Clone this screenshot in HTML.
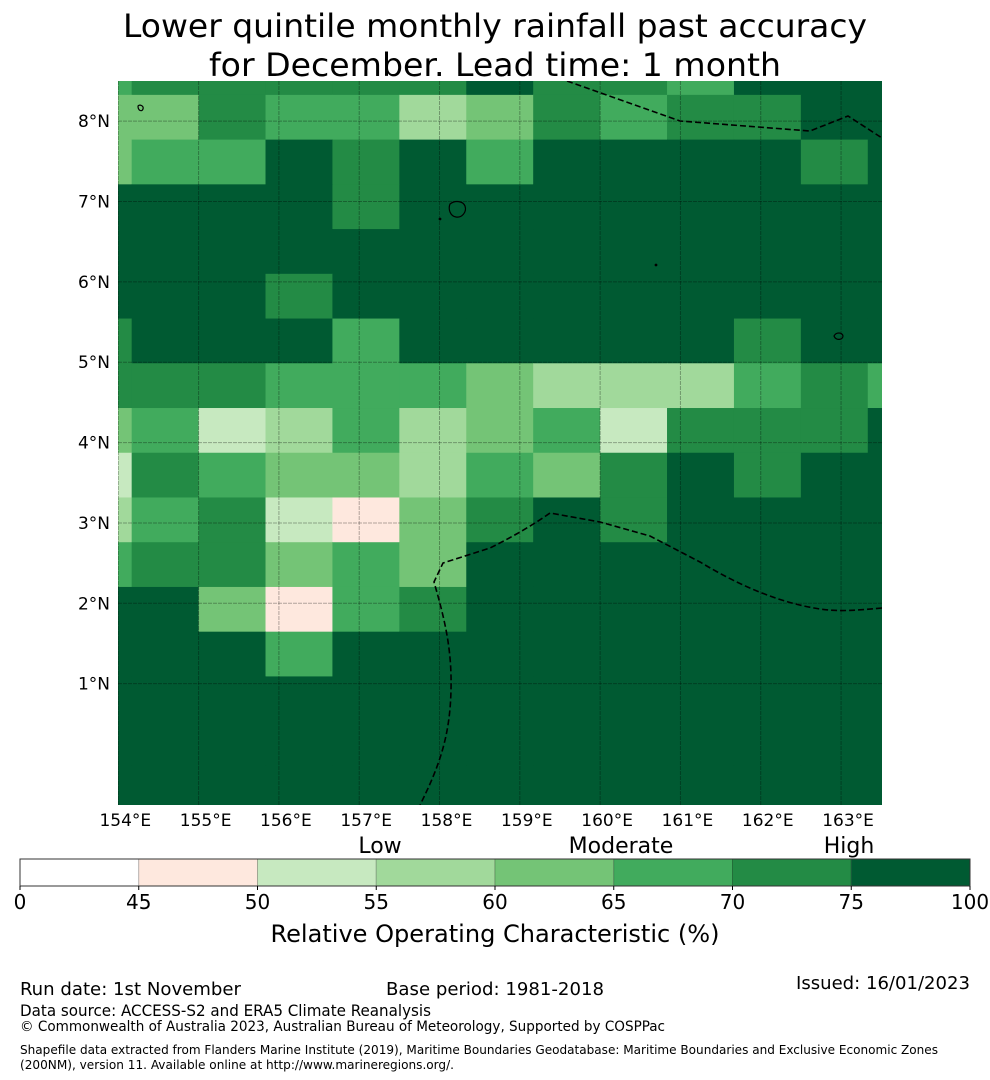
<!DOCTYPE html>
<html><head><meta charset="utf-8">
<style>
html,body{margin:0;padding:0;background:#fff;}
svg{display:block;font-family:"DejaVu Sans","Liberation Sans",sans-serif;}
</style></head>
<body>
<svg id="chart" width="990" height="1080" viewBox="0 0 990 1080" xmlns="http://www.w3.org/2000/svg">
<text x="495" y="37" text-anchor="middle" font-size="32" textLength="744" lengthAdjust="spacingAndGlyphs">Lower quintile monthly rainfall past accuracy</text>
<text x="495" y="76" text-anchor="middle" font-size="32" textLength="572" lengthAdjust="spacingAndGlyphs">for December. Lead time: 1 month</text>
<defs><clipPath id="mapclip"><rect x="118" y="81" width="764" height="724"/></clipPath></defs>
<g id="cells" clip-path="url(#mapclip)"></g>
<g id="grid" clip-path="url(#mapclip)"></g>
<g id="eez" clip-path="url(#mapclip)" fill="none" stroke="#000" stroke-width="1.6" stroke-dasharray="6,3">
<path d="M567,81 L680,121 L810,131 L848,116 L882,138"/>
<path d="M882,608 C860,610 840,612 820,609 C780,603 740,586 700,562 L650,536 L600,522 L550,513 C530,527 510,538 490,548 L443,563 L434,582 C445,620 452,650 451,690 C450,735 440,765 420,805"/>
</g>
<g id="islands" fill="none" stroke="#000" stroke-width="1.2">
<path d="M450,204 C455,200 463,201 465,206 C467,212 462,218 456,217 C450,216 448,209 450,204 Z"/>
<path d="M138,106 C140,104 144,106 143,109 C142,112 138,111 138,106 Z"/>
<path d="M834,336 C836,332 842,332 843,336 C843,340 836,341 834,336 Z"/>
<circle cx="440" cy="219" r="0.8" fill="#000"/>
<circle cx="656" cy="265" r="0.8" fill="#000"/>
</g>
<g id="axes"></g>
<g id="cbar"></g>
<text x="380" y="853" text-anchor="middle" font-size="22">Low</text>
<text x="621" y="853" text-anchor="middle" font-size="22">Moderate</text>
<text x="849" y="853" text-anchor="middle" font-size="22">High</text>
<text x="495" y="942" text-anchor="middle" font-size="24" textLength="449" lengthAdjust="spacingAndGlyphs">Relative Operating Characteristic (%)</text>
<g font-family="'DejaVu Sans Condensed','DejaVu Sans',sans-serif">
<text x="20" y="995" font-size="18" textLength="221" lengthAdjust="spacingAndGlyphs">Run date: 1st November</text>
<text x="386" y="995" font-size="18" textLength="218" lengthAdjust="spacingAndGlyphs">Base period: 1981-2018</text>
<text x="796" y="989" font-size="18" textLength="174" lengthAdjust="spacingAndGlyphs">Issued: 16/01/2023</text>
<text x="20" y="1016" font-size="16" textLength="411" lengthAdjust="spacingAndGlyphs">Data source: ACCESS-S2 and ERA5 Climate Reanalysis</text>
<text x="20" y="1031" font-size="14" textLength="645" lengthAdjust="spacingAndGlyphs">© Commonwealth of Australia 2023, Australian Bureau of Meteorology, Supported by COSPPac</text>
<text x="20" y="1054" font-size="12" textLength="918" lengthAdjust="spacingAndGlyphs">Shapefile data extracted from Flanders Marine Institute (2019), Maritime Boundaries Geodatabase: Maritime Boundaries and Exclusive Economic Zones</text>
<text x="20" y="1069" font-size="12" textLength="434" lengthAdjust="spacingAndGlyphs">(200NM), version 11. Available online at http://www.marineregions.org/.</text>
</g>
</svg>
<script>
// ROC values (%) per grid cell, rows north→south, columns west→east
const rocRows = [
 [67,72,72,72,72,72,85,72,72,67,85,85,85],
 [62,62,72,67,67,57,62,72,67,72,72,85,85],
 [62,67,67,85,72,85,67,85,85,85,85,72,85],
 [85,85,85,85,72,85,85,85,85,85,85,85,85],
 [85,85,85,85,85,85,85,85,85,85,85,85,85],
 [85,85,85,72,85,85,85,85,85,85,85,85,85],
 [72,85,85,85,67,85,85,85,85,85,72,85,85],
 [72,72,72,67,67,67,62,57,57,57,67,72,67],
 [62,67,52,57,67,57,62,67,52,72,72,72,85],
 [52,72,67,62,62,57,67,62,72,85,72,85,85],
 [57,67,72,52,47,62,72,85,72,85,85,85,85],
 [67,72,72,62,67,62,85,85,85,85,85,85,85],
 [85,85,62,47,67,72,85,85,85,85,85,85,85],
 [85,85,85,67,85,85,85,85,85,85,85,85,85],
 [85,85,85,85,85,85,85,85,85,85,85,85,85],
 [85,85,85,85,85,85,85,85,85,85,85,85,85],
 [85,85,85,85,85,85,85,85,85,85,85,85,85]
];
const levelBounds = [0,45,50,55,60,65,70,75,100];
const levelColors = ["#ffffff","#fee8de","#c7e9c0","#a1d99b","#74c476","#41ab5d","#238b45","#005a32"];
const lonTicks = [154,155,156,157,158,159,160,161,162,163];
const latTicks = [1,2,3,4,5,6,7,8];
const cbarTicks = ["0","45","50","55","60","65","70","75","100"];
const NS="http://www.w3.org/2000/svg";
const lonMin=153.9963, lonMax=163.51, latMin=-0.51, latMax=8.5;
const X0=118,X1=882,Y0=81,Y1=805;
function xOf(lon){return X0+(lon-lonMin)/(lonMax-lonMin)*(X1-X0);}
function yOf(lat){return Y0+(latMax-lat)/(latMax-latMin)*(Y1-Y0);}
const cellLon0=153.3333, cellDLon=0.8333, cellLat0=8.884, cellDLat=0.5567;
function colorOf(v){for(let i=levelBounds.length-2;i>=0;i--){if(v>=levelBounds[i])return levelColors[i];}return levelColors[0];}
const cells=document.getElementById('cells');
rocRows.forEach((row,r)=>{row.forEach((v,c)=>{
  const l0=cellLon0+c*cellDLon, l1=l0+cellDLon, t=cellLat0-r*cellDLat, b=t-cellDLat;
  const x=xOf(l0), y=yOf(t);
  const rect=document.createElementNS(NS,'rect');
  
  
  rect.setAttribute('x',x);rect.setAttribute('y',y);
  rect.setAttribute('width',xOf(l1)-x+0.5);rect.setAttribute('height',yOf(b)-y+0.5);
  rect.setAttribute('fill',colorOf(v));
  cells.appendChild(rect);
});});
const grid=document.getElementById('grid'), axes=document.getElementById('axes');
lonTicks.forEach(lon=>{
  const x=xOf(lon);
  const ln=document.createElementNS(NS,'line');
  
  
  ln.setAttribute('x1',x);ln.setAttribute('x2',x);ln.setAttribute('y1',Y0);ln.setAttribute('y2',Y1);
  ln.setAttribute('stroke','rgba(0,0,0,0.3)');ln.setAttribute('stroke-width','1');ln.setAttribute('stroke-dasharray','4,1');
  grid.appendChild(ln);
  const t=document.createElementNS(NS,'text');
  
  
  t.setAttribute('x',x+7);t.setAttribute('y',826);t.setAttribute('text-anchor','middle');t.setAttribute('font-size','17');
  t.textContent=lon+'°E';axes.appendChild(t);
});
latTicks.forEach(lat=>{
  const y=yOf(lat);
  const ln=document.createElementNS(NS,'line');
  
  
  ln.setAttribute('x1',X0);ln.setAttribute('x2',X1);ln.setAttribute('y1',y);ln.setAttribute('y2',y);
  ln.setAttribute('stroke','rgba(0,0,0,0.3)');ln.setAttribute('stroke-width','1');ln.setAttribute('stroke-dasharray','4,1');
  grid.appendChild(ln);
  const t=document.createElementNS(NS,'text');
  
  
  t.setAttribute('x',110);t.setAttribute('y',y+6);t.setAttribute('text-anchor','end');t.setAttribute('font-size','17');
  t.textContent=lat+'°N';axes.appendChild(t);
});
const cb=document.getElementById('cbar');
const CBX0=20, CBX1=970, CBY=859, CBH=27;
const nSeg=levelColors.length;
function cbX(i){return CBX0+i*(CBX1-CBX0)/nSeg;}
levelColors.forEach((col,i)=>{
  const r=document.createElementNS(NS,'rect');
  
  
  r.setAttribute('x',cbX(i));r.setAttribute('y',CBY);r.setAttribute('width',cbX(i+1)-cbX(i));r.setAttribute('height',CBH);
  r.setAttribute('fill',col);r.setAttribute('stroke','rgba(0,0,0,0.2)');r.setAttribute('stroke-width','1');
  cb.appendChild(r);
});
const frame=document.createElementNS(NS,'rect');


frame.setAttribute('x',CBX0);frame.setAttribute('y',CBY);frame.setAttribute('width',CBX1-CBX0);frame.setAttribute('height',CBH);
frame.setAttribute('fill','none');frame.setAttribute('stroke','#333');frame.setAttribute('stroke-width','1');
cb.appendChild(frame);
cbarTicks.forEach((lab,i)=>{
  const x=cbX(i);
  const tk=document.createElementNS(NS,'line');
  
  
  tk.setAttribute('x1',x);tk.setAttribute('x2',x);tk.setAttribute('y1',CBY+CBH);tk.setAttribute('y2',CBY+CBH+4);
  tk.setAttribute('stroke','#000');cb.appendChild(tk);
  const t=document.createElementNS(NS,'text');
  
  
  t.setAttribute('x',x);t.setAttribute('y',909);t.setAttribute('text-anchor','middle');t.setAttribute('font-size','20');
  t.textContent=lab;cb.appendChild(t);
});
</script>
</body></html>
